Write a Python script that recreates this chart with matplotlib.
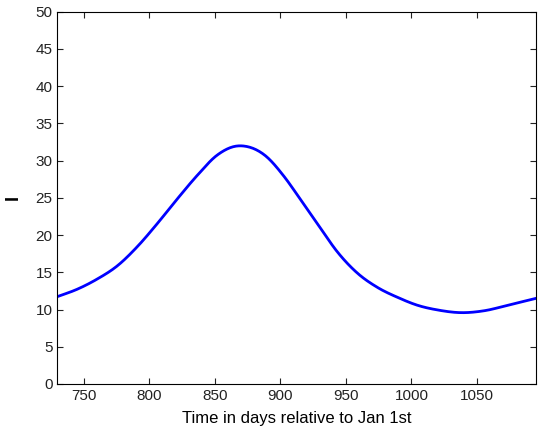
import numpy as np
import matplotlib
matplotlib.use('Agg')
import matplotlib.pyplot as plt

# values
days = [730, 745, 760, 776, 791, 806, 821, 837, 852, 867, 872, 888, 903,
        913, 929, 944, 959, 974, 990, 1005, 1020, 1038, 1056, 1074, 1095]
infected = [11.73, 12.71, 14.05, 15.9, 18.44, 21.49, 24.75, 28.07, 30.75,
            31.96, 31.96, 30.75, 27.85, 25.4, 21.35, 17.64, 14.86, 12.98,
            11.59, 10.55, 9.94, 9.58, 9.85, 10.6, 11.5]

plt.rcParams['font.family'] = ['Liberation Sans', 'DejaVu Sans']


def hermite(x, y, n=20):
    # cubic Hermite through the points, Catmull-Rom style tangents
    x = np.asarray(x, float)
    y = np.asarray(y, float)
    m = np.gradient(y, x)
    xs, ys = [], []
    for k in range(len(x) - 1):
        h = x[k + 1] - x[k]
        t = np.linspace(0, 1, n, endpoint=False)
        h00 = 2 * t**3 - 3 * t**2 + 1
        h10 = t**3 - 2 * t**2 + t
        h01 = -2 * t**3 + 3 * t**2
        h11 = t**3 - t**2
        xs.append(x[k] + t * h)
        ys.append(h00 * y[k] + h10 * h * m[k] + h01 * y[k + 1] + h11 * h * m[k + 1])
    xs.append([x[-1]])
    ys.append([y[-1]])
    return np.concatenate(xs), np.concatenate(ys)


fig = plt.figure(figsize=(5.38, 4.41), dpi=100)
ax = fig.add_axes([0.1065, 0.1293, 0.8898, 0.8442])

xs, ys = hermite(days, infected)
ax.plot(xs, ys, color='#0000ff', linewidth=2.0)

ax.set_xlim(730, 1095)
ax.set_ylim(0, 50)
ax.set_xticks(range(750, 1051, 50))
ax.set_yticks(range(0, 51, 5))
ax.tick_params(direction='in', length=4, top=True, right=True,
               labelsize=11, colors='#222222', width=0.8)
for s in ax.spines.values():
    s.set_linewidth(0.8)

ax.set_xlabel('Time in days relative to Jan 1st', fontsize=12, labelpad=6)
ax.set_ylabel('I', fontsize=13, fontweight='bold', labelpad=10)

fig.savefig('out.png', dpi=100)
